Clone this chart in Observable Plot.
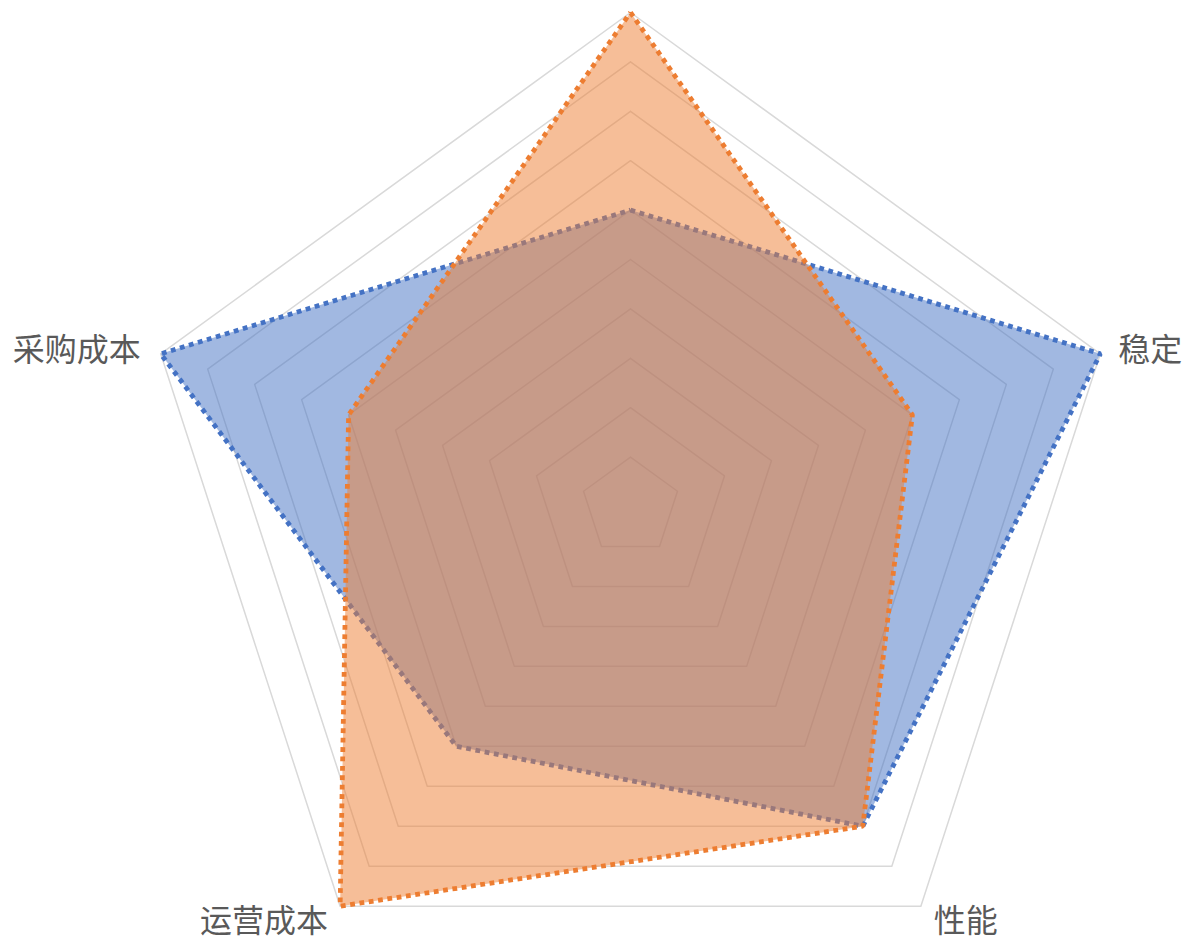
<!DOCTYPE html>
<html>
<head>
<meta charset="utf-8">
<script src="https://cdn.jsdelivr.net/npm/d3@7"></script>
<script src="https://cdn.jsdelivr.net/npm/@observablehq/plot@0.6"></script>
<style>
  html, body { margin: 0; padding: 0; background: #fff; }
  #chart svg { display: block; overflow: visible; }
</style>
</head>
<body>
<div id="chart"></div>
<script>
// ---- data ----
const categories = ["", "稳定", "性能", "运营成本", "采购成本"];
const seriesBlue = [6, 10, 8, 6, 10];
const seriesOrange = [10, 6, 8, 10, 6];
const ringLevels = [1, 2, 3, 4, 5, 6, 7, 8, 9, 10];
const maxValue = 10;

// ---- geometry helpers (data space, y up) ----
const n = categories.length;
const angle = i => (i * 2 * Math.PI) / n;
const px = (v, i) => v * Math.sin(angle(i));
const py = (v, i) => v * Math.cos(angle(i));

function polygon(values, name) {
  const pts = values.map((v, i) => ({series: name, x: px(v, i), y: py(v, i)}));
  pts.push({...pts[0]});
  return pts;
}

const rings = ringLevels.flatMap(r =>
  d3.range(n + 1).map(i => ({ring: r, x: px(r, i % n), y: py(r, i % n)}))
);

const blue = polygon(seriesBlue, "blue");
const orange = polygon(seriesOrange, "orange");

const labels = categories.map((c, i) => {
  const s = Math.sin(angle(i));
  const c0 = Math.cos(angle(i));
  return {
    name: c,
    x: px(maxValue, i),
    y: py(maxValue, i),
    anchor: Math.abs(s) < 1e-6 ? "middle" : (s > 0 ? "start" : "end"),
    bottom: c0 < 0
  };
});

const unit = 49.4; // pixels per value unit
const W = 1193, H = 944, cx = 630, cy = 506;
const FS = 32, TXT = "#595959";
const dotted = {strokeWidth: 4.8, strokeDasharray: "4.8 4.6", strokeLinecap: "butt", strokeLinejoin: "miter"};

const chart = Plot.plot({
  width: W,
  height: H,
  margin: 0,
  x: {domain: [-cx / unit, (W - cx) / unit], range: [0, W], axis: null},
  y: {domain: [-(H - cy) / unit, cy / unit], range: [H, 0], axis: null},
  style: {fontFamily: "'Noto Sans CJK SC', 'Noto Sans', sans-serif", background: "#fff"},
  marks: [
    Plot.line(rings, {x: "x", y: "y", z: "ring", stroke: "#D9D9D9", strokeWidth: 1.5}),
    Plot.line(blue, {x: "x", y: "y", fill: "#4472C4", fillOpacity: 0.5, stroke: "none"}),
    Plot.line(blue, {x: "x", y: "y", stroke: "#4472C4", ...dotted}),
    Plot.line(orange, {x: "x", y: "y", fill: "#ED7D31", fillOpacity: 0.5, stroke: "none"}),
    Plot.line(orange, {x: "x", y: "y", stroke: "#ED7D31", ...dotted}),
    Plot.text(labels.filter(d => d.anchor === "start" && !d.bottom), {x: "x", y: "y", text: "name", textAnchor: "start", dx: 18, dy: -3, fontSize: FS, fill: TXT}),
    Plot.text(labels.filter(d => d.anchor === "end" && !d.bottom), {x: "x", y: "y", text: "name", textAnchor: "end", dx: -20, dy: -3, fontSize: FS, fill: TXT}),
    Plot.text(labels.filter(d => d.anchor === "start" && d.bottom), {x: "x", y: "y", text: "name", textAnchor: "start", dx: 13, dy: 16, fontSize: FS, fill: TXT}),
    Plot.text(labels.filter(d => d.anchor === "end" && d.bottom), {x: "x", y: "y", text: "name", textAnchor: "end", dx: -12, dy: 16, fontSize: FS, fill: TXT}),
    Plot.text(labels.filter(d => d.anchor === "middle" && d.name), {x: "x", y: "y", text: "name", textAnchor: "middle", dy: -20, fontSize: FS, fill: TXT})
  ]
});

document.getElementById("chart").appendChild(chart);
</script>
</body>
</html>
